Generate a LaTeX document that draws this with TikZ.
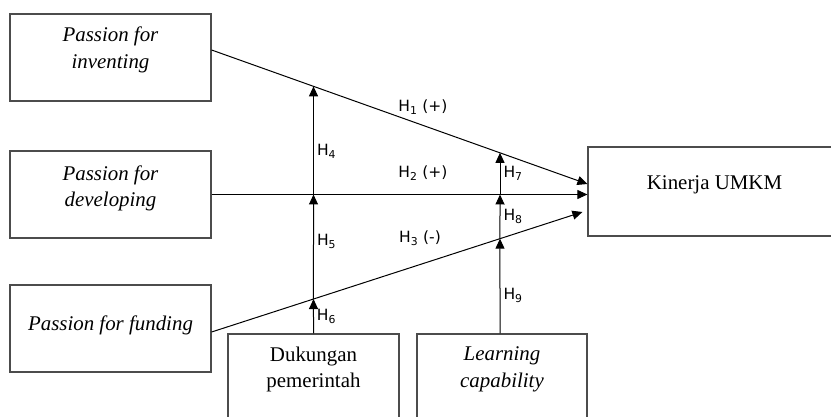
\documentclass[tikz,border=0pt]{standalone}
\usepackage{fontspec}
\setmainfont{Liberation Serif}
\newfontfamily\hypfont{DejaVu Sans}
\usetikzlibrary{arrows.meta,calc}

\tikzset{
  varbox/.style={draw=black!70, line width=1.2pt, minimum width=201pt, minimum height=87pt, inner sep=0pt},
  vartext/.style={align=center, font=\fontsize{20.9}{26.5}\selectfont},
  link/.style={line width=1pt, -{Triangle[length=10pt,width=9pt]}},
  hyp/.style={font=\hypfont\fontsize{15.5}{18}\selectfont, inner sep=3pt}
}

\begin{document}
\begin{tikzpicture}[x=1pt, y=-1pt]
\clip (0,0) rectangle (831,417);

% variables
\node[varbox] (inv) at (110.5,57.5) {};
\node[vartext] (invt) at ([yshift=7.5pt]inv.center) {\textit{Passion for}\\\textit{inventing}};
\node[varbox] (dev) at (110.5,194.5) {};
\node[vartext] (devt) at ([yshift=6pt]dev.center) {\textit{Passion for}\\\textit{developing}};
\node[varbox] (fund) at (110.5,328.5) {};
\node[vartext] (fundt) at ([yshift=3.5pt]fund.center) {\textit{Passion for funding}};
\node[varbox, minimum width=253pt, minimum height=89pt] (kin) at (714.5,191.5) {};
\node[vartext] (kint) at ([yshift=6.5pt]kin.center) {Kinerja UMKM};
\node[varbox, minimum width=171pt] (duk) at (313.5,377.5) {};
\node[vartext] (dukt) at ([yshift=8pt]duk.center) {Dukungan\\pemerintah};
\node[varbox, minimum width=170pt] (lrn) at (502,377.5) {};
\node[vartext] (lrnt) at ([yshift=8pt]lrn.center) {\textit{Learning}\\\textit{capability}};

% direct paths
\coordinate (s1) at ([yshift=7.5pt]inv.east);
\coordinate (e1) at ([yshift=7.5pt]kin.west);
\coordinate (s3) at ([yshift=-3.5pt]fund.east);
\coordinate (e3) at ([xshift=-5pt,yshift=-20.5pt]kin.west);
\draw[link] (s1) -- (e1);
\draw[link] (dev.east) -- (dev.east -| kin.west);
\draw[link] (s3) -- (e3);

\node[hyp] (h1) at (423,107) {H\textsubscript{1} (+)};
\node[hyp] (h2) at (423,173) {H\textsubscript{2} (+)};
\node[hyp] (h3) at (420,238) {H\textsubscript{3} (-)};

% moderating paths
\coordinate (v1) at (duk.north);
\coordinate (t1) at (v1 |- inv.north);
\coordinate (v2) at ([xshift=-2pt]lrn.north);
\coordinate (t2) at (v2 |- inv.north);
\coordinate (a4) at (intersection of s1--e1 and v1--t1);
\coordinate (a5) at (v1 |- dev.east);
\coordinate (a6) at (intersection of s3--e3 and v1--t1);
\coordinate (b7) at (intersection of s1--e1 and v2--t2);
\coordinate (b8) at (v2 |- dev.east);
\coordinate (b9) at (intersection of s3--e3 and v2--t2);

\draw[link] (v1) -- node[hyp, right] (h6) {H\textsubscript{6}} (a6);
\draw[link] (a6) -- node[hyp, right, pos=0.55] (h5) {H\textsubscript{5}} (a5);
\draw[link] (a5) -- node[hyp, right, pos=0.4] (h4) {H\textsubscript{4}} (a4);
\draw[link] (v2) -- node[hyp, right, pos=0.4] (h9) {H\textsubscript{9}} (b9);
\draw[link] (b9) -- node[hyp, right] (h8) {H\textsubscript{8}} (b8);
\draw[link] (b8) -- node[hyp, right] (h7) {H\textsubscript{7}} (b7);
\end{tikzpicture}
\end{document}
